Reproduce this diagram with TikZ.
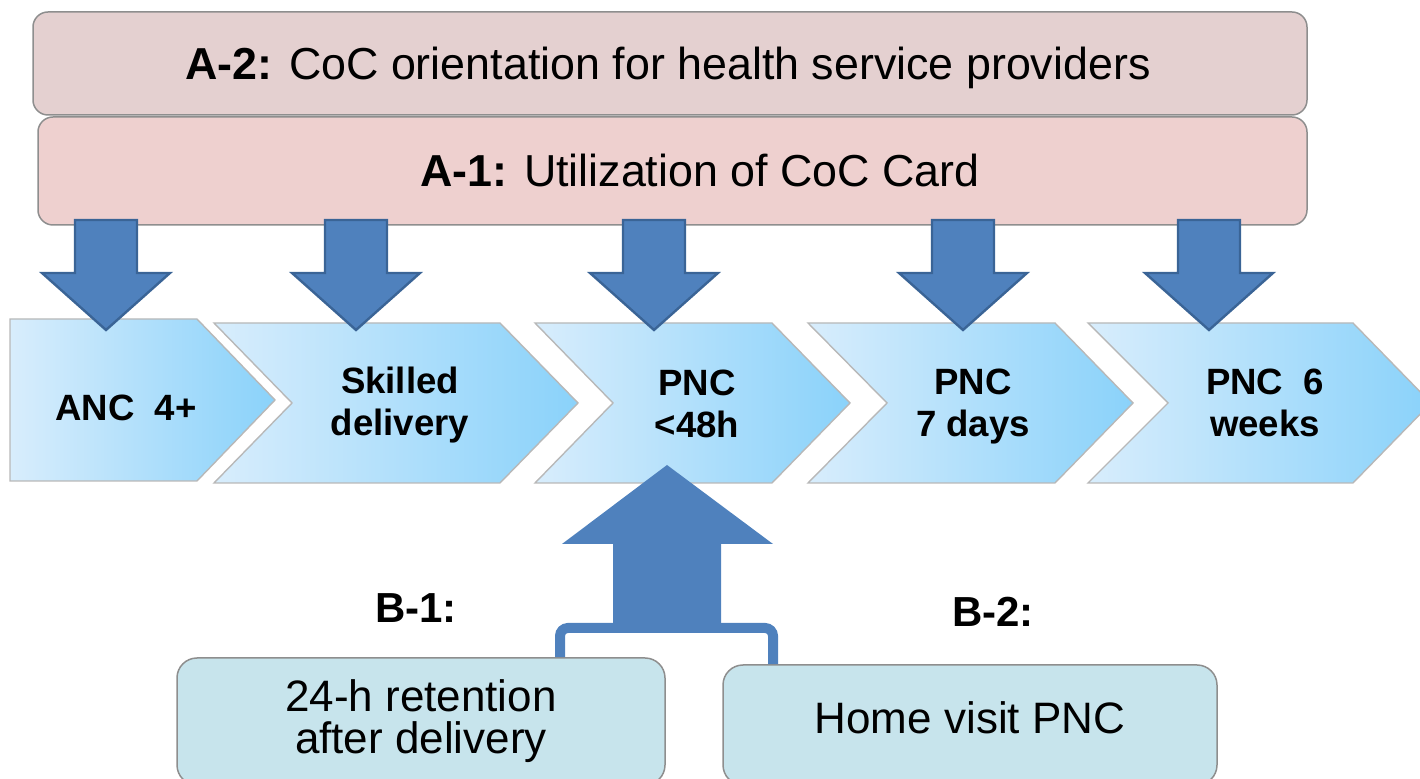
\documentclass[tikz,border=0pt]{standalone}
\usepackage{fontspec}
\setmainfont{Liberation Sans}
\usepackage{xcolor}

\definecolor{atwofill}{HTML}{E4D0D0}
\definecolor{aonefill}{HTML}{EED0CF}
\definecolor{boxline}{HTML}{8E8E8E}
\definecolor{stageleft}{HTML}{D8EDFC}
\definecolor{stageright}{HTML}{8AD2FA}
\definecolor{stageline}{HTML}{B8B8B8}
\definecolor{arrowblue}{HTML}{4F81BD}
\definecolor{arrowline}{HTML}{3A6496}
\definecolor{bfill}{HTML}{C7E4EC}

\begin{document}
\begin{tikzpicture}[x=0.5pt,y=-0.5pt,
    abox/.style={draw=boxline,line width=0.75pt,rounded corners=7.5pt},
    atext/.style={font=\fontsize{22.4}{26}\selectfont},
    stage/.style={draw=stageline,line width=0.7pt,left color=stageleft,right color=stageright},
    stagetext/.style={align=center,font=\fontsize{18.3}{21}\selectfont\bfseries},
    downarrow/.style={draw=arrowline,fill=arrowblue,line width=1.2pt},
    uparrow/.style={fill=arrowblue},
    bracket/.style={draw=arrowblue,line width=5pt,rounded corners=4pt},
    bbox/.style={draw=boxline,fill=bfill,line width=0.75pt,rounded corners=10pt,
        align=center,font=\fontsize{22}{21}\selectfont},
    blabel/.style={font=\fontsize{21}{24}\selectfont\bfseries}]
            \useasboundingbox (0,0) rectangle (1420,779);

            % stages of care
            \draw[stage] (10,319) -- (197,319) -- (275,400) -- (197,481) -- (10,481) -- cycle;
            \draw[stage] (214,323) -- (500,323) -- (578,403) -- (500,483) -- (214,483) -- (292,403) -- cycle;
            \draw[stage] (535,323) -- (772,323) -- (850,403) -- (772,483) -- (535,483) -- (613,403) -- cycle;
            \draw[stage] (808,323) -- (1055,323) -- (1133,403) -- (1055,483) -- (808,483) -- (887,403) -- cycle;
            \draw[stage] (1088,323) -- (1353,323) -- (1431,403) -- (1353,483) -- (1088,483) -- (1168,403) -- cycle;

            \node (c1) at (126,408) [stagetext] {ANC\ \ 4+};
            \node (c2) at (400,405) [stagetext] {Skilled\\delivery};
            \node (c3) at (697,404) [stagetext] {PNC\\<48h};
            \node (c4) at (973,407) [stagetext] {PNC\\7 days};
            \node (c5) at (1265,403) [stagetext] {PNC\ \ 6\\weeks};

            % A activities
            \node (a2) at (670,63.5) [abox,fill=atwofill,minimum width=637pt,minimum height=51.5pt] {};
            \node (a2text) at (668,67.5) [atext] {\textbf{A-2:} CoC orientation for health service providers};
            \node (a1) at (672.5,171) [abox,fill=aonefill,minimum width=634.5pt,minimum height=54pt] {};
            \node (a1text) at (700,170) [atext] {\textbf{A-1:} Utilization of CoC Card};

            \draw[downarrow] (75,220) -- ++(62,0) -- ++(0,53) -- ++(33,0) -- ++(-64,57) -- ++(-64,-57) -- ++(33,0) -- cycle;
            \draw[downarrow] (325,220) -- ++(62,0) -- ++(0,53) -- ++(33,0) -- ++(-64,57) -- ++(-64,-57) -- ++(33,0) -- cycle;
            \draw[downarrow] (623,220) -- ++(62,0) -- ++(0,53) -- ++(33,0) -- ++(-64,57) -- ++(-64,-57) -- ++(33,0) -- cycle;
            \draw[downarrow] (932,220) -- ++(62,0) -- ++(0,53) -- ++(33,0) -- ++(-64,57) -- ++(-64,-57) -- ++(33,0) -- cycle;
            \draw[downarrow] (1178,220) -- ++(62,0) -- ++(0,53) -- ++(33,0) -- ++(-64,57) -- ++(-64,-57) -- ++(33,0) -- cycle;

            % B activities
            \node (b1) at (421,721.5) [bbox,minimum width=244pt,minimum height=63.5pt] {24-h retention\\after delivery};
            \node (b2) at (970,725) [bbox,minimum width=247pt,minimum height=60pt,text depth=7pt] {Home visit PNC};
            \node (b1label) at (416,608) [blabel] {B-1:};
            \node (b2label) at (993,612) [blabel] {B-2:};

            \coordinate (bl) at (560,628);
            \coordinate (br) at (773,628);
            \draw[bracket] (b1.north -| bl) -- (bl) -- (br) -- (b2.north -| br);
            \fill[uparrow] (613,630) -- ++(0,-86) -- ++(-51,0) -- ++(105,-79) -- ++(106,79) -- ++(-52,0) -- ++(0,86) -- cycle;
        \end{tikzpicture}
\end{document}
